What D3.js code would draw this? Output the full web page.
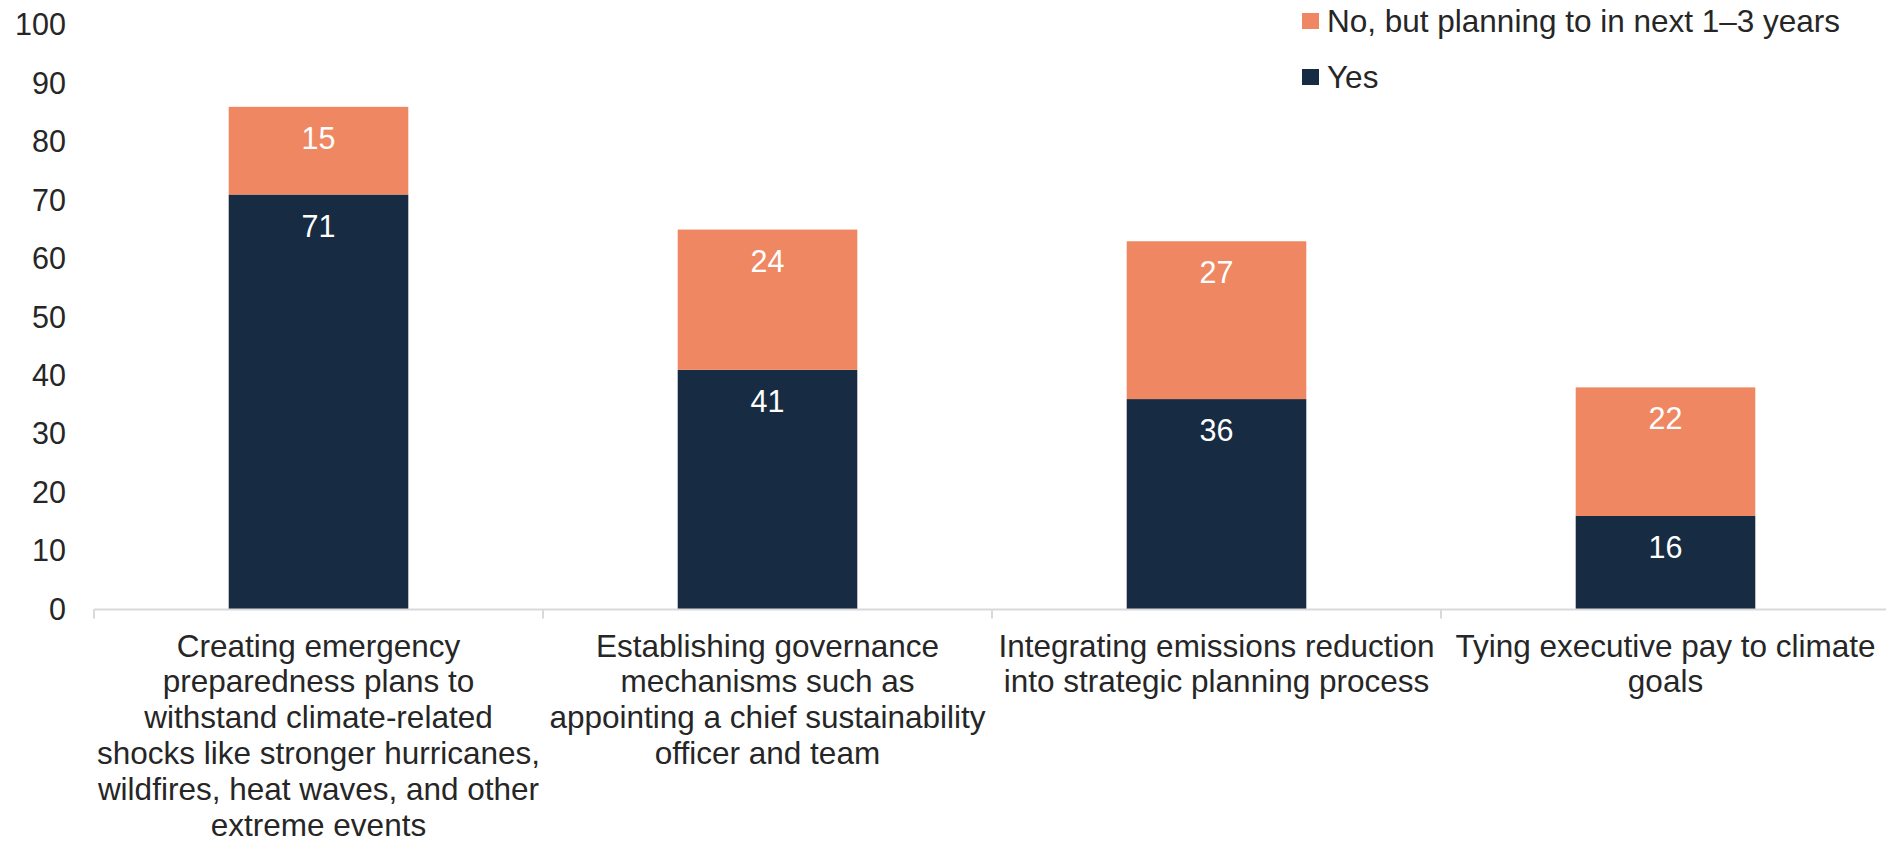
<!DOCTYPE html>
<html>
<head>
<meta charset="utf-8">
<script src="https://cdn.jsdelivr.net/npm/d3@7"></script>
<style>
  html, body { margin: 0; padding: 0; background: #ffffff; }
  svg { display: block; font-family: "Liberation Sans", Arial, sans-serif; }
</style>
</head>
<body>
<svg id="chart" width="1886" height="843"></svg>
<script>
// Categories (line breaks mark the label wrapping)
const categories = [
  "Creating emergency\npreparedness plans to\nwithstand climate-related\nshocks like stronger hurricanes,\nwildfires, heat waves, and other\nextreme events",
  "Establishing governance\nmechanisms such as\nappointing a chief sustainability\nofficer and team",
  "Integrating emissions reduction\ninto strategic planning process",
  "Tying executive pay to climate\ngoals"
];
const yesValues = [71, 41, 36, 16];
const planningValues = [15, 24, 27, 22];
const seriesNames = ["Yes", "No, but planning to in next 1\u20133 years"];
const yTicks = [0, 10, 20, 30, 40, 50, 60, 70, 80, 90, 100];

const colors = { yes: "#172B43", planning: "#F08763" };
const textColor = "#262626";

const svg = d3.select("#chart");

const x = d3.scaleBand()
  .domain(categories)
  .range([94, 1890])
  .padding(0);

const y = d3.scaleLinear()
  .domain([0, 100])
  .range([609.5, 25]);

const barWidth = x.bandwidth() * 0.4;

// Y axis labels (no axis line)
const yAxis = svg.append("g")
  .attr("transform", "translate(66,0)")
  .call(d3.axisLeft(y).tickValues(yTicks).tickSize(0).tickPadding(0));
yAxis.select(".domain").remove();
yAxis.selectAll("text")
  .attr("fill", textColor)
  .style("font-size", "30.5px")
  .style("font-family", "'Liberation Sans', Arial, sans-serif");

// Stacked data
const rows = categories.map((c, i) => ({ cat: c, yes: yesValues[i], planning: planningValues[i] }));
const stack = d3.stack().keys(["yes", "planning"])(rows);

const layers = svg.append("g").selectAll("g")
  .data(stack)
  .join("g")
  .attr("fill", d => colors[d.key]);

layers.selectAll("rect")
  .data(d => d)
  .join("rect")
  .attr("x", d => x(d.data.cat) + (x.bandwidth() - barWidth) / 2)
  .attr("width", barWidth)
  .attr("y", d => y(d[1]))
  .attr("height", d => y(d[0]) - y(d[1]));

// Value labels near the top of each segment
layers.selectAll("text")
  .data(d => d.map(s => ({ s, key: d.key })))
  .join("text")
  .attr("x", d => x(d.s.data.cat) + x.bandwidth() / 2)
  .attr("y", d => y(d.s[1]) + 31)
  .attr("text-anchor", "middle")
  .attr("dominant-baseline", "central")
  .attr("fill", "#ffffff")
  .style("font-size", "30.5px")
  .text(d => d.s.data[d.key]);

// X axis line with boundary ticks
const xAxis = svg.append("g")
  .attr("transform", `translate(0,${y(0)})`);
xAxis.append("line")
  .attr("x1", x.range()[0]).attr("x2", x.range()[1])
  .attr("y1", 0).attr("y2", 0)
  .attr("stroke", "#d9d9d9").attr("stroke-width", 2);
const boundaries = categories.map(c => x(c)).concat([x.range()[1]]);
xAxis.selectAll("line.tick")
  .data(boundaries)
  .join("line")
  .attr("class", "tick")
  .attr("x1", d => d).attr("x2", d => d)
  .attr("y1", 0).attr("y2", 9)
  .attr("stroke", "#d9d9d9").attr("stroke-width", 2);

// Category labels
const catLabels = svg.append("g").selectAll("text")
  .data(categories)
  .join("text")
  .attr("x", d => x(d) + x.bandwidth() / 2)
  .attr("y", 656.5)
  .attr("text-anchor", "middle")
  .attr("fill", textColor)
  .style("font-size", "31.5px");
catLabels.selectAll("tspan")
  .data(d => d.split("\n").map(line => ({ line, cx: x(d) + x.bandwidth() / 2 })))
  .join("tspan")
  .attr("x", d => d.cx)
  .attr("dy", (d, i) => i === 0 ? 0 : 35.9)
  .text(d => d.line);

// Legend
const legendItems = [
  { name: seriesNames[1], color: colors.planning, cy: 21 },
  { name: seriesNames[0], color: colors.yes, cy: 77 }
];
const legend = svg.append("g").selectAll("g")
  .data(legendItems)
  .join("g");
legend.append("rect")
  .attr("x", 1302)
  .attr("y", d => d.cy - 8)
  .attr("width", 17)
  .attr("height", 16)
  .attr("fill", d => d.color);
legend.append("text")
  .attr("x", 1327)
  .attr("y", d => d.cy)
  .attr("dominant-baseline", "central")
  .attr("fill", textColor)
  .style("font-size", "31.5px")
  .text(d => d.name);
</script>
</body>
</html>
